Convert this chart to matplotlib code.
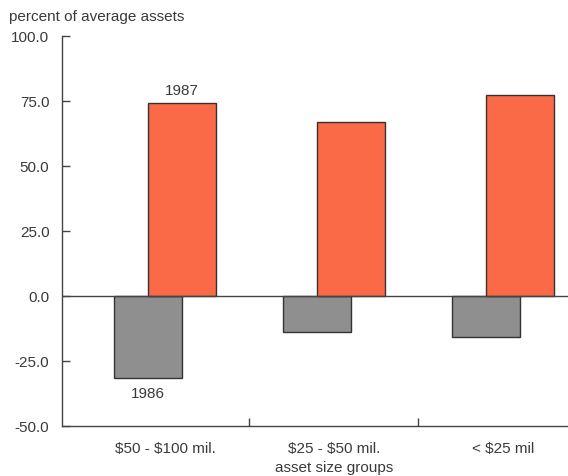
import matplotlib.pyplot as plt
import numpy as np

plt.rcParams['font.family'] = ['Liberation Sans', 'DejaVu Sans']

groups = ["\\$50 - \\$100 mil.", "\\$25 - \\$50 mil.", "< \\$25 mil"]
vals_1986 = [-31.5, -13.8, -15.8]
vals_1987 = [74.2, 66.9, 77.3]
yticks = [100.0, 75.0, 50.0, 25.0, 0.0, -25.0, -50.0]

txt = "#3a3a3a"
fig = plt.figure(figsize=(5.68, 4.76), dpi=100)
ax = fig.add_axes([0.109, 0.105, 0.891, 0.819])

x = np.arange(len(groups))
w = 0.40
ax.bar(x - 0.1, vals_1986, w, color="#8f8f8f", edgecolor="#333333", linewidth=1.0, zorder=2)
ax.bar(x + 0.1, vals_1987, w, color="#fa6a47", edgecolor="#333333", linewidth=1.0, zorder=3)
ax.axhline(0, color="#444444", linewidth=1.0, zorder=4)

ax.text(x[0] + 0.1, vals_1987[0] + 2, "1987", ha="center", va="bottom", fontsize=11, color=txt)
ax.text(x[0] - 0.1, vals_1986[0] - 3.5, "1986", ha="center", va="top", fontsize=11, color=txt)

ax.set_xlim(-0.61, 2.385)
ax.set_ylim(-50, 100)
ax.set_yticks(yticks)
ax.set_yticklabels([f"{v:.1f}" for v in yticks], fontsize=11, color=txt)
ax.tick_params(axis="y", direction="in", length=6, width=1, color="#444444", pad=9)

# group labels sit between the divider ticks
ax.set_xticks([0.5, 1.5])
ax.set_xticklabels([])
ax.tick_params(axis="x", direction="in", length=6, width=1, color="#444444")
for xi, g in zip(x, groups):
    ax.text(xi, -56, g, ha="center", va="top", fontsize=11, color=txt)
ax.text(1, -63.5, "asset size groups", ha="center", va="top", fontsize=11, color=txt)

for s in ["top", "right"]:
    ax.spines[s].set_visible(False)
for s in ["left", "bottom"]:
    ax.spines[s].set_color("#444444")
    ax.spines[s].set_linewidth(1.0)

fig.text(0.016, 0.965, "percent of average assets", ha="left", va="center", fontsize=11, color=txt)

fig.savefig("out.png", dpi=100)
